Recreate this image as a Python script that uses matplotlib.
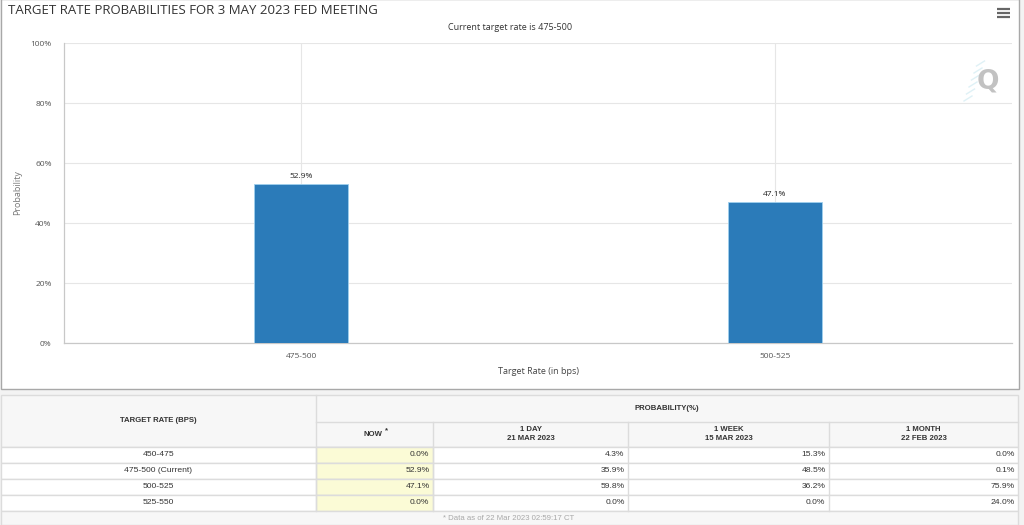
"""CME FedWatch 风格的目标利率概率图（柱状图 + 下方概率表）。"""

import matplotlib.pyplot as plt
from matplotlib.patches import Rectangle

W, H = 1024, 525

TITLE = "TARGET RATE PROBABILITIES FOR 3 MAY 2023 FED MEETING"
SUBTITLE = "Current target rate is 475-500"
FOOTNOTE = "* Data as of 22 Mar 2023 02:59:17 CT"

# 柱状图数据
rate_bins = ["475-500", "500-525"]
rate_probs = [52.9, 47.1]
y_ticks = [0, 20, 40, 60, 80, 100]

# 概率表数据
table_bins = ["450-475", "475-500 (Current)", "500-525", "525-550"]
now_probs = [0.0, 52.9, 47.1, 0.0]
day_probs = [4.3, 35.9, 59.8, 0.0]
week_probs = [15.3, 48.5, 36.2, 0.0]
month_probs = [0.0, 0.1, 75.9, 24.0]
period_heads = [("1 DAY", "21 MAR 2023"), ("1 WEEK", "15 MAR 2023"),
                ("1 MONTH", "22 FEB 2023")]

BAR_COLOR = "#2b7bb9"
GRID = "#e6e6e6"
CHART_FONT = ["Open Sans", "DejaVu Sans"]
TABLE_FONT = ["Liberation Sans", "DejaVu Sans"]

fig = plt.figure(figsize=(W / 100, H / 100), dpi=100, facecolor="#f3f3f3")

# 背景层（像素坐标）
ov = fig.add_axes([0, 0, 1, 1], zorder=0)
ov.set_xlim(0, W)
ov.set_ylim(H, 0)
ov.axis("off")

ov.add_patch(Rectangle((0.5, -1), 1018, 390, facecolor="white",
                       edgecolor="#a8a8a8", lw=1))
ov.text(8, 10, TITLE, fontsize=9.5, color="#333333", family=CHART_FONT,
        ha="left", va="center")
ov.text(510, 28, SUBTITLE, fontsize=6.5, color="#333333", family=CHART_FONT,
        ha="center", va="center")
for yy in (9, 13, 17):
    ov.plot([997, 1010], [yy, yy], color="#666666", lw=1.6,
            solid_capstyle="butt")
# Q 水印
ov.text(988, 81, "Q", fontsize=19, fontweight="bold", color="#c2c2c2",
        family=["DejaVu Sans"], ha="center", va="center")
for i in range(6):
    ov.plot([964 + i * 2.5, 972 + i * 2.5], [101 - i * 7, 96 - i * 7],
            color="#dff1f6", lw=1.0)

# 概率表
col_x = [0.5, 316, 433, 628, 829, 1018]
row_y = [395, 422, 447, 463, 479, 495, 511, 524.5]
LINE = "#dcdcdc"
ov.add_patch(Rectangle((col_x[0], row_y[0]), col_x[-1] - col_x[0],
                       row_y[2] - row_y[0], facecolor="#f7f7f7",
                       edgecolor=LINE, lw=1))
for r in range(4):
    y0, y1 = row_y[2 + r], row_y[3 + r]
    ov.add_patch(Rectangle((col_x[0], y0), col_x[-1] - col_x[0], y1 - y0,
                           facecolor="white", edgecolor=LINE, lw=1))
    ov.add_patch(Rectangle((col_x[1], y0), col_x[2] - col_x[1], y1 - y0,
                           facecolor="#fbfbd6", edgecolor=LINE, lw=1))
ov.add_patch(Rectangle((col_x[0], row_y[6]), col_x[-1] - col_x[0],
                       row_y[7] - row_y[6], facecolor="#f7f7f7",
                       edgecolor=LINE, lw=1))
ov.plot([col_x[1], col_x[1]], [row_y[0], row_y[6]], color=LINE, lw=1)
ov.plot([col_x[1], col_x[-1]], [row_y[1], row_y[1]], color=LINE, lw=1)
for cx in col_x[2:-1]:
    ov.plot([cx, cx], [row_y[1], row_y[6]], color=LINE, lw=1)

head_kw = dict(fontsize=5.6, fontweight="bold", color="#333333",
               family=TABLE_FONT, ha="center", va="center")
ov.text((col_x[0] + col_x[1]) / 2, 421, "TARGET RATE (BPS)", **head_kw)
ov.text((col_x[1] + col_x[-1]) / 2, 409, "PROBABILITY(%)", **head_kw)
ov.text((col_x[1] + col_x[2]) / 2 - 2, 434.5, "NOW", **head_kw)
ov.text((col_x[1] + col_x[2]) / 2 + 12, 431, "*", **head_kw)
for i, (line1, line2) in enumerate(period_heads):
    cx = (col_x[2 + i] + col_x[3 + i]) / 2
    ov.text(cx, 429.5, line1, **head_kw)
    ov.text(cx, 438.5, line2, **head_kw)

cell_kw = dict(fontsize=6.1, color="#333333", family=TABLE_FONT,
               va="center")
columns = [now_probs, day_probs, week_probs, month_probs]
for r, label in enumerate(table_bins):
    yc = (row_y[2 + r] + row_y[3 + r]) / 2
    ov.text((col_x[0] + col_x[1]) / 2, yc, label, ha="center", **cell_kw)
    for c, values in enumerate(columns):
        ov.text(col_x[2 + c] - 3.5, yc, f"{values[r]:.1f}%", ha="right",
                **cell_kw)
ov.text(509, 518, FOOTNOTE, fontsize=5.6, color="#a8a8a8",
        family=TABLE_FONT, ha="center", va="center")

# 柱状图
ax = fig.add_axes([64 / W, (H - 343) / H, 948 / W, 300 / H], zorder=1)
ax.set_facecolor("none")
x = list(range(len(rate_bins)))
bars = ax.bar(x, rate_probs, width=0.2, color=BAR_COLOR,
              edgecolor="#9fd0ee", linewidth=0.6, zorder=3)
for rect, val in zip(bars, rate_probs):
    ax.annotate(f"{val:.1f}%", (rect.get_x() + rect.get_width() / 2,
                                rect.get_height()),
                xytext=(0, 3), textcoords="offset points", ha="center",
                va="bottom", fontsize=6, color="#222222", family=CHART_FONT)

ax.set_xlim(-0.5, len(rate_bins) - 0.5)
ax.set_ylim(0, 100)
ax.set_xticks(x)
ax.set_xticklabels(rate_bins)
ax.set_yticks(y_ticks)
ax.set_yticklabels([f"{t}%" for t in y_ticks])
ax.tick_params(length=0, labelsize=6, labelcolor="#555555")
ax.tick_params(axis="y", pad=9)
ax.tick_params(axis="x", pad=7)
for lab in ax.get_xticklabels() + ax.get_yticklabels():
    lab.set_family(CHART_FONT)
ax.grid(True, color=GRID, lw=0.8, zorder=0)
ax.set_axisbelow(True)
for side in ("top", "right"):
    ax.spines[side].set_visible(False)
ax.spines["bottom"].set_color("#c8c8c8")
ax.spines["left"].set_color("#c8c8c8")
ax.spines["bottom"].set_linewidth(0.9)
ax.spines["left"].set_linewidth(0.9)
ax.set_xlabel("Target Rate (in bps)", fontsize=6.5, color="#444444",
              family=CHART_FONT, labelpad=5)
ax.set_ylabel("Probability", fontsize=6.5, color="#777777",
              family=CHART_FONT, labelpad=6)

fig.savefig("out.png", dpi=100, facecolor=fig.get_facecolor())
